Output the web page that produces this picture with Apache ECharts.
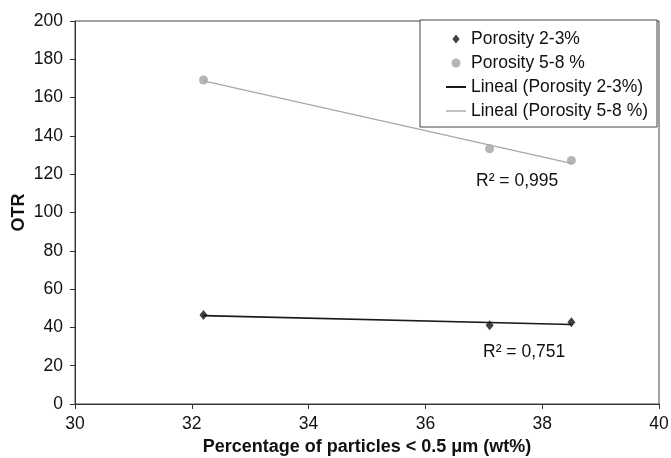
<!DOCTYPE html>
<html>
<head>
<meta charset="utf-8">
<title>OTR</title>
<script src="https://cdn.jsdelivr.net/npm/echarts@6/dist/echarts.min.js"></script>
<style>
html,body{margin:0;padding:0;background:#fff;}
#main{width:671px;height:458px;}
</style>
</head>
<body>
<div id="main"></div>
<script>
// datos
var xLow = [32.2, 37.1, 38.5];
var yLow = [46.5, 41.1, 42.7];
var xHigh = [32.2, 37.1, 38.5];
var yHigh = [169.2, 133.3, 127.2];
var seriesNames = ['Porosity 2-3%', 'Porosity 5-8 %', 'Lineal (Porosity 2-3%)', 'Lineal (Porosity 5-8 %)'];
var r2Labels = ['R\u00b2 = 0,995', 'R\u00b2 = 0,751'];

var font = '"Liberation Sans", Arial, sans-serif';

function pares(xs, ys){
	return xs.map(function(x, i){ return [x, ys[i]]; });
}
// recta de minimos cuadrados (tendencia lineal)
function lineal(xs, ys){
	var n = xs.length, sx = 0, sy = 0, sxx = 0, sxy = 0;
	for(var i=0;i<n;i++){
		sx += xs[i]; sy += ys[i];
		sxx += xs[i]*xs[i]; sxy += xs[i]*ys[i];
	}
	var b = (n*sxy - sx*sy)/(n*sxx - sx*sx);
	var a = (sy - b*sx)/n;
	var x0 = Math.min.apply(null, xs), x1 = Math.max.apply(null, xs);
	return [[x0, a + b*x0], [x1, a + b*x1]];
}

var chart = echarts.init(document.getElementById('main'));
chart.setOption({
	animation: false,
	backgroundColor: '#fff',
	textStyle: {fontFamily: font, color: '#111'},
	grid: {
		left: 75, right: 12, top: 21, bottom: 54,
		show: true, borderColor: '#444', borderWidth: 1,
		outerBoundsMode: 'none'
	},
	legend: {
		orient: 'vertical',
		left: 420, top: 20,
		padding: [10, 9, 7, 26],
		itemGap: 6,
		itemWidth: 20,
		itemHeight: 9,
		symbolKeepAspect: true,
		borderColor: '#444',
		borderWidth: 1,
		backgroundColor: '#fff',
		textStyle: {fontSize: 17.5, color: '#111', fontFamily: font},
		data: [
			{name: seriesNames[0], icon: 'path://M4,0 L8,5 L4,10 L0,5 Z'},
			{name: seriesNames[1], icon: 'circle'},
			{name: seriesNames[2], icon: 'path://M0,0 L20,0 L20,2 L0,2 Z'},
			{name: seriesNames[3], icon: 'path://M0,0 L20,0 L20,1.4 L0,1.4 Z'}
		]
	},
	xAxis: {
		type: 'value', min: 30, max: 40, interval: 2,
		name: 'Percentage of particles < 0.5 \u03bcm (wt%)',
		nameLocation: 'middle', nameGap: 33,
		nameTextStyle: {fontSize: 18, fontWeight: 'bold', color: '#111', fontFamily: font},
		axisLine: {lineStyle: {color: '#333', width: 1}},
		axisTick: {inside: false, length: 5, lineStyle: {color: '#333'}},
		axisLabel: {fontSize: 17.5, color: '#111', margin: 11, fontFamily: font},
		splitLine: {show: false}
	},
	yAxis: {
		type: 'value', min: 0, max: 200, interval: 20,
		name: 'OTR',
		nameLocation: 'middle', nameGap: 47, nameMoveOverlap: false,
		nameTextStyle: {fontSize: 18, fontWeight: 'bold', color: '#111', fontFamily: font},
		axisLine: {show: true, lineStyle: {color: '#333', width: 1}},
		axisTick: {show: true, inside: false, length: 5, lineStyle: {color: '#333'}},
		axisLabel: {fontSize: 17.5, color: '#111', margin: 12, fontFamily: font},
		splitLine: {show: false}
	},
	series: [
		{
			name: seriesNames[2], type: 'line', symbol: 'none', z: 2,
			color: '#1a1a1a',
			lineStyle: {color: '#1a1a1a', width: 1.6},
			data: lineal(xLow, yLow)
		},
		{
			name: seriesNames[3], type: 'line', symbol: 'none', z: 2,
			color: '#a8a8a8',
			lineStyle: {color: '#a8a8a8', width: 1.4},
			data: lineal(xHigh, yHigh)
		},
		{
			name: seriesNames[0], type: 'scatter', symbol: 'diamond', symbolSize: [8, 10], z: 3,
			color: '#111',
			itemStyle: {color: '#111'},
			data: pares(xLow, yLow)
		},
		{
			name: seriesNames[1], type: 'scatter', symbol: 'circle', symbolSize: 9, z: 3,
			color: '#a3a3a3',
			itemStyle: {color: '#a3a3a3'},
			data: pares(xHigh, yHigh)
		}
	],
	graphic: [
		{type: 'text', left: 476, top: 172, style: {text: r2Labels[0], font: '17.5px ' + font, fill: '#111'}},
		{type: 'text', left: 483, top: 343, style: {text: r2Labels[1], font: '17.5px ' + font, fill: '#111'}}
	]
});
</script>
</body>
</html>
